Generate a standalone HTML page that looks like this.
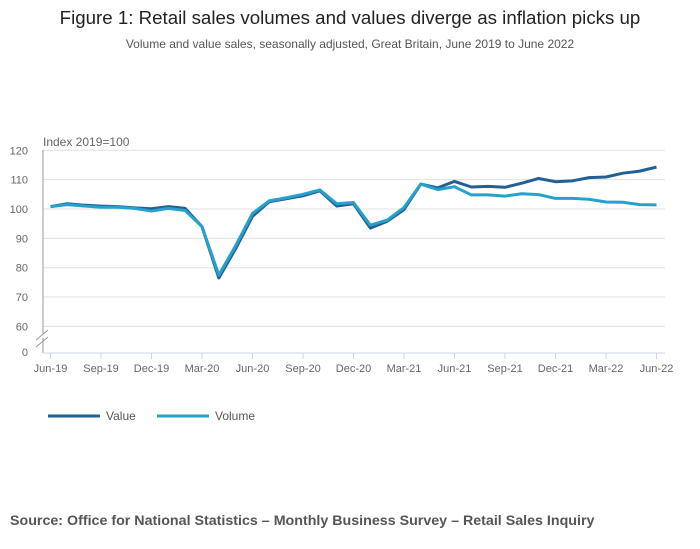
<!DOCTYPE html>
<html><head><meta charset="utf-8"><style>
body{margin:0;width:700px;height:549px;background:#fff;font-family:"Liberation Sans",sans-serif;overflow:hidden}
#title{position:absolute;left:0;width:700px;top:7px;text-align:center;font-size:18.7px;color:#222}
#sub{position:absolute;left:0;width:700px;top:37px;text-align:center;font-size:12px;color:#555}
#src{position:absolute;left:10px;top:513px;font-size:14.25px;font-weight:bold;color:#555}
svg{position:absolute;left:0;top:0}
</style></head><body>
<div id="title">Figure 1: Retail sales volumes and values diverge as inflation picks up</div>
<div id="sub">Volume and value sales, seasonally adjusted, Great Britain, June 2019 to June 2022</div>
<svg id="c" width="700" height="549"></svg>
<div id="src">Source: Office for National Statistics – Monthly Business Survey – Retail Sales Inquiry</div>
<script>
const valueSeries=[100.8,101.8,101.3,101.0,100.8,100.4,100.1,100.8,100.2,94.0,76.5,86.5,97.5,102.5,103.5,104.5,106.2,101.0,101.8,93.5,95.8,99.8,108.5,107.2,109.4,107.5,107.7,107.4,108.8,110.4,109.3,109.6,110.7,110.9,112.2,112.9,114.3];
const volumeSeries=[100.8,101.5,101.0,100.6,100.6,100.2,99.3,100.2,99.5,94.0,77.5,87.5,98.5,102.8,103.8,105.0,106.5,101.8,102.2,94.5,96.2,100.5,108.5,106.6,107.6,104.8,104.8,104.4,105.2,104.9,103.6,103.6,103.3,102.4,102.3,101.5,101.4];
const yTicks=[60,70,80,90,100,110,120];
const xTickLabels=["Jun-19","Sep-19","Dec-19","Mar-20","Jun-20","Sep-20","Dec-20","Mar-21","Jun-21","Sep-21","Dec-21","Mar-22","Jun-22"];
const NS="http://www.w3.org/2000/svg",svg=document.getElementById('c');
function X(i){return 50.5+i*(606/36);}
function Y(v){return 209-(v-100)*2.935;}
function el(t,a,txt){const e=document.createElementNS(NS,t);for(const k in a)e.setAttribute(k,a[k]);if(txt!=null)e.textContent=txt;svg.appendChild(e);return e;}
yTicks.forEach(v=>{
  const g=el('line',{x1:43,x2:665,y1:Y(v),y2:Y(v),stroke:'#e0e0e0','stroke-width':1});
  
  
  const t=el('text',{x:28,y:Y(v)+4,'text-anchor':'end','font-size':11,fill:'#666'},v);
  
  
});
const z=el('text',{x:28,y:356,'text-anchor':'end','font-size':11,fill:'#666'},'0');


const ax=el('line',{x1:43,x2:43,y1:150,y2:353,stroke:'#999','stroke-width':1});


el('rect',{x:38,y:334,width:10,height:4,fill:'#fff'});
const br=el('path',{d:'M36,340 L48,330 M36,347 L48,337',stroke:'#999','stroke-width':1,fill:'none'});


const xa=el('line',{x1:43,x2:665,y1:353,y2:353,stroke:'#ccd6eb','stroke-width':1});


xTickLabels.forEach((l,k)=>{
  const x=X(k*3);
  el('line',{x1:x,x2:x,y1:353,y2:359,stroke:'#ccd6eb'});
  const t=el('text',{x:x,y:372,'text-anchor':'middle','font-size':11,fill:'#666'},l);
  
  
});
const yt=el('text',{x:43,y:146,'font-size':12,fill:'#666'},'Index 2019=100');


function line(d,c,n){const p=el('polyline',{points:d.map((v,i)=>X(i)+','+Y(v)).join(' '),fill:'none',stroke:c,'stroke-width':3,'stroke-linejoin':'round'});
  
  }
line(valueSeries,'#206095','value-line');
line(volumeSeries,'#27a0cc','volume-line');
const l1=el('line',{x1:48,x2:100,y1:416,y2:416,stroke:'#206095','stroke-width':3});


const t1=el('text',{x:106,y:420,'font-size':12,fill:'#555'},'Value');


const l2=el('line',{x1:157,x2:209,y1:416,y2:416,stroke:'#27a0cc','stroke-width':3});


const t2=el('text',{x:215,y:420,'font-size':12,fill:'#555'},'Volume');


</script>
</body></html>
